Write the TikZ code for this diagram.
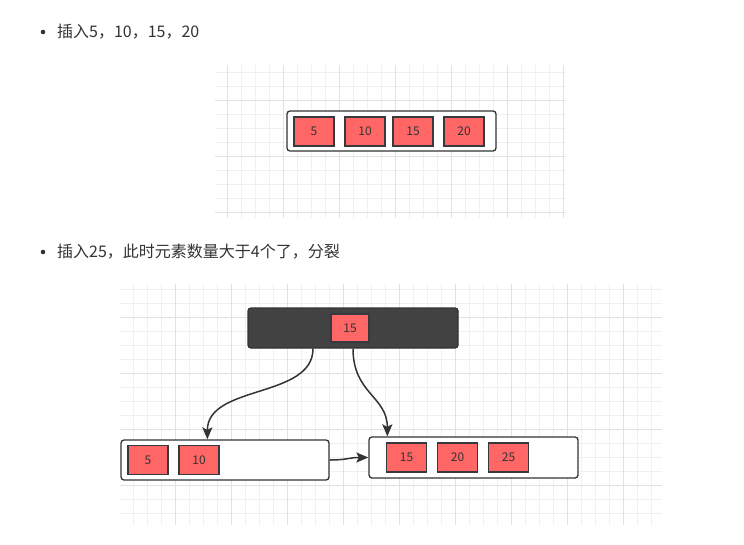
\documentclass[tikz,border=0pt]{standalone}
\usepackage{fontspec}
\setmainfont{Noto Sans CJK SC}
\usetikzlibrary{
    arrows.meta,
    positioning,
    calc
}

\begin{document}
\begin{tikzpicture}[x=1pt, y=-1pt,
    key/.style={draw=keyline, fill=keyred, line width=1.2pt, inner sep=0pt,
        minimum width=40pt, minimum height=29pt, text=textdark, font=\fontsize{12}{13}\selectfont},
    leaf/.style={draw=linedark, fill=white, line width=1.3pt, rounded corners=3pt,
        minimum width=209pt, minimum height=40pt, inner sep=0pt},
    root/.style={leaf, fill=rootfill, minimum width=210pt},
    link/.style={draw=linedark, line width=1.5pt, -{Stealth[length=12pt, width=10pt, inset=2.5pt]}},
    bullettext/.style={anchor=west, inner sep=0pt, text=textdark, font=\fontsize{16}{18}\selectfont}
]
% Define palette
\definecolor{keyred}{RGB}{255, 102, 102}
\definecolor{keyline}{RGB}{54, 57, 61}
\definecolor{linedark}{RGB}{51, 51, 51}
\definecolor{rootfill}{RGB}{66, 66, 66}
\definecolor{textdark}{RGB}{51, 51, 51}
\definecolor{gridminor}{RGB}{240, 240, 240}
\definecolor{gridmajor}{RGB}{226, 226, 226}

\useasboundingbox (0,0) rectangle (744,544);

% Grid of the first picture
\foreach \x in {227,241,...,563} \draw[gridminor, line width=0.8pt] (\x,65) -- (\x,218);
\foreach \y in {72,86,...,212} \draw[gridminor, line width=0.8pt] (215,\y) -- (566,\y);
\foreach \x in {227,283,...,563} \draw[gridmajor, line width=0.8pt] (\x,65) -- (\x,218);
\foreach \y in {100,156,212} \draw[gridmajor, line width=0.8pt] (215,\y) -- (566,\y);

% Grid of the second picture
\foreach \x in {133,147,...,651} \draw[gridminor, line width=0.8pt] (\x,284) -- (\x,525);
\foreach \y in {289,303,...,513} \draw[gridminor, line width=0.8pt] (120,\y) -- (662,\y);
\foreach \x in {175,231,...,623} \draw[gridmajor, line width=0.8pt] (\x,284) -- (\x,525);
\foreach \y in {317,373,...,485} \draw[gridmajor, line width=0.8pt] (120,\y) -- (662,\y);

% Bullets
\fill[textdark] (43,32) circle (2.3);
\node[bullettext] (line1) at (57,32) {插入5，10，15，20};
\fill[textdark] (43,252) circle (2.3);
\node[bullettext] (line2) at (57,252) {插入25，此时元素数量大于4个了，分裂};

% Before the split
\node[leaf] (full) at (391.5,131) {};
\foreach \v/\x [count=\i] in {5/314, 10/365, 15/413, 20/464} {
    \node[key] (f\i) at (\x,131.5) {\v};
}

% After the split
\node[root] (root) at (353,328) {};
\node[key, minimum width=38pt, minimum height=28pt] (r1) at (350,328) {15};

\node[leaf, minimum width=208pt] (left) at (225,460) {};
\foreach \v/\x [count=\i] in {5/148, 10/199} {
    \node[key] (l\i) at (\x,460) {\v};
}

\node[leaf, minimum height=41pt] (right) at (473.5,457.5) {};
\foreach \v/\x [count=\i] in {15/406.5, 20/457.5, 25/508.5} {
    \node[key] (g\i) at (\x,457.5) {\v};
}

% Links
\coordinate (rootA) at ($(root.south)+(-40,0)$);
\coordinate (leftIn) at ($(left.north west)+(87,0)$);
\coordinate (rightIn) at ($(right.north west)+(19,0)$);
\draw[link] (rootA) .. controls ($(rootA)+(0,50)$) and ($(leftIn)+(0,-55)$) .. (leftIn);
\draw[link] (root.south) .. controls ($(root.south)+(0,45)$) and ($(rightIn)+(0,-40)$) .. (rightIn);
\draw[link] (left.east) .. controls ($(left.east)+(18,0)$) and ($(right.west)+(-20,0)$) .. (right.west);
\end{tikzpicture}
\end{document}
